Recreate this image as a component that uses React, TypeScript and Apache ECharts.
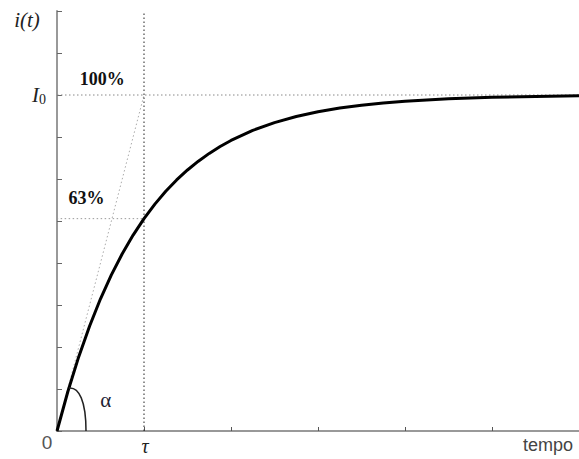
import React, { useEffect, useRef } from "react";
import * as echarts from "echarts";

const timeValues = [0, 0.125, 0.25, 0.375, 0.5, 0.625, 0.75, 0.875, 1, 1.125, 1.25, 1.375, 1.5, 1.625, 1.75, 1.875, 2, 2.25, 2.5, 2.75, 3, 3.25, 3.5, 3.75, 4, 4.5, 5, 5.5, 6];
const currentValues = [0, 0.1175, 0.2212, 0.3127, 0.3935, 0.4647, 0.5276, 0.5831, 0.6321, 0.6753, 0.7135, 0.7472, 0.7769, 0.8031, 0.8262, 0.8466, 0.8647, 0.8946, 0.9179, 0.9361, 0.9502, 0.9612, 0.9698, 0.9765, 0.9817, 0.9889, 0.9933, 0.9959, 0.9975];
const tangentLine = [[0, 0], [1, 1]];
const tauLine = [[1, 0], [1, 1.25]];
const i0Line = [[0, 1], [6, 1]];
const p63Line = [[-0.05, 0.632], [1, 0.632]];

export default function App() {
  const ref = useRef<HTMLDivElement>(null);
  useEffect(() => {
    if (!ref.current) return;
    const chart = echarts.init(ref.current, null, { renderer: "svg" });
    const dotted = (data: number[][], color: string, z: number) => ({
      type: "line",
      data,
      symbol: "none",
      silent: true,
      z,
      lineStyle: { color, width: 1, type: [1.5, 2.5] },
    });
    chart.setOption({
      animation: false,
      grid: { left: 57, right: 0, top: 11, bottom: 28 },
      xAxis: {
        type: "value",
        min: 0,
        max: 6,
        interval: 1,
        axisLine: { show: true, lineStyle: { color: "#777", width: 1.5 } },
        axisTick: { show: true, inside: true, length: 4, lineStyle: { color: "#555" } },
        axisLabel: { show: false },
        splitLine: { show: false },
      },
      yAxis: {
        type: "value",
        min: 0,
        max: 1.25,
        interval: 0.125,
        axisLine: { show: true, lineStyle: { color: "#999", width: 2 } },
        axisTick: { show: true, inside: true, length: 5, lineStyle: { color: "#666" } },
        axisLabel: { show: false },
        splitLine: { show: false },
      },
      series: [
        dotted(tangentLine, "#aaa", 1),
        dotted(tauLine, "#222", 1),
        dotted(i0Line, "#888", 1),
        dotted(p63Line, "#999", 1),
        {
          type: "line",
          data: timeValues.map((t, i) => [t, currentValues[i]]),
          symbol: "none",
          smooth: false,
          z: 5,
          lineStyle: { color: "#000", width: 3, join: "round" },
        },
      ],
    });
    const p = (x: number, y: number) => chart.convertToPixel({ gridIndex: 0 }, [x, y]) as number[];
    const o = p(0, 0);
    const serif = "Liberation Serif";
    const sans = "Liberation Sans";
    const t1 = p(1, 0);
    const iy = p(0, 1);
    const h100 = p(0.52, 1.049);
    const h63 = p(0.34, 0.692);
    const al = p(0.56, 0.092);
    const txt = (x: number, y: number, text: string, fontFamily: string, fontSize: number, extra: any = {}) => ({
      type: "text",
      x,
      y,
      style: { text, fontFamily, fontSize, fill: "#222", align: "center", verticalAlign: "middle", ...extra },
    });
    chart.setOption({
      graphic: [
        txt(27, 20, "i(t)", serif, 21, { fontStyle: "italic" }),
        {
          type: "text", x: o[0] - 11, y: iy[1], style: {
            text: "{a|I}{b|0}", align: "right", verticalAlign: "middle", fill: "#222",
            rich: {
              a: { fontFamily: serif, fontStyle: "italic", fontSize: 21, fill: "#222" },
              b: { fontFamily: serif, fontSize: 14, fill: "#222", padding: [8, 0, 0, 0] },
            },
          },
        },
        txt(h100[0], h100[1], "100%", serif, 18, { fontWeight: "bold", fill: "#111" }),
        txt(h63[0], h63[1], "63%", serif, 18, { fontWeight: "bold", fill: "#111" }),
        txt(al[0], al[1], "α", serif, 21, { fill: "#223" }),
        txt(o[0] - 10, o[1] + 11, "0", sans, 19, { fill: "#555" }),
        txt(t1[0] + 1, o[1] + 15, "τ", serif, 20, { fontStyle: "italic" }),
        txt(548, o[1] + 14, "tempo", sans, 18, { fill: "#444" }),
        {
          type: "bezierCurve",
          shape: { x1: o[0] + 29, y1: o[1], cpx1: o[0] + 29, cpy1: o[1] - 30, cpx2: o[0] + 22, cpy2: o[1] - 44, x2: o[0] + 12, y2: o[1] - 43 },
          style: { stroke: "#222", lineWidth: 1.5, fill: "none" },
          z: 10,
        },
      ],
    });
    return () => chart.dispose();
  }, []);
  return <div ref={ref} style={{ position: "absolute", left: 0, top: 0, width: 579, height: 459 }} />;
}
